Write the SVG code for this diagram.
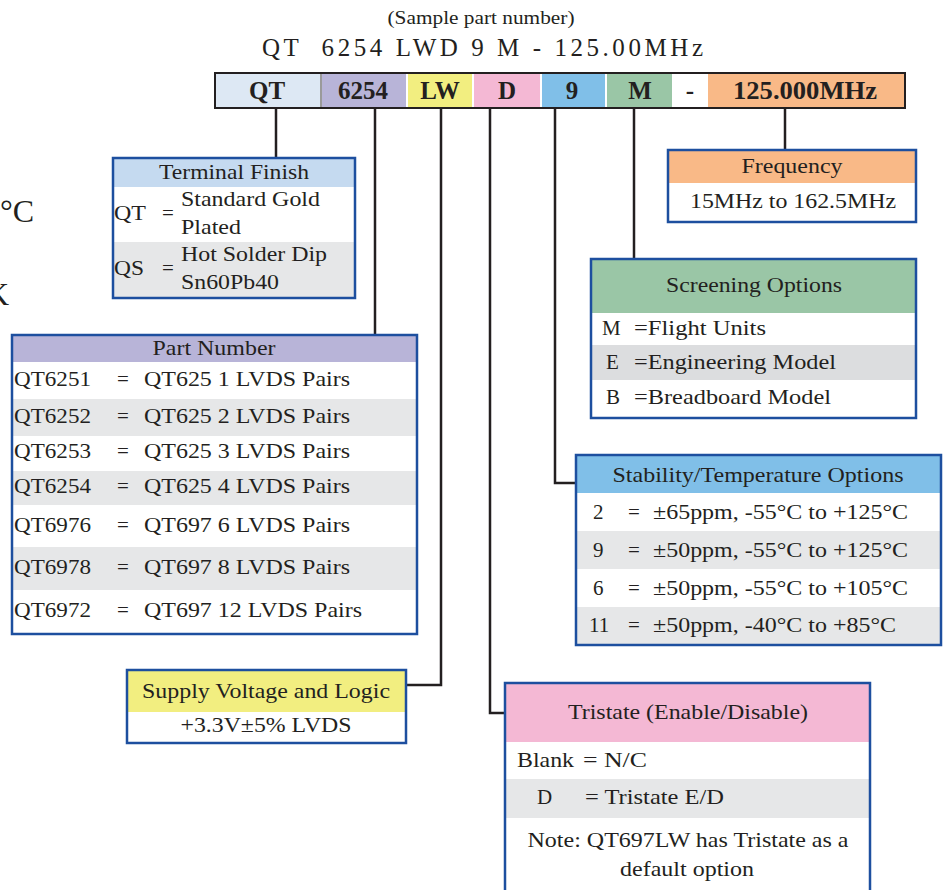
<svg xmlns="http://www.w3.org/2000/svg" width="947" height="890" viewBox="0 0 947 890">
<style>
text{font-family:"Liberation Serif","Times New Roman",serif;fill:#231f20;font-size:21px}
.c{text-anchor:middle}
.b{font-weight:bold;font-size:25px;text-anchor:middle}
.box{fill:none;stroke:#1d4f9f;stroke-width:2.5}
.g{fill:#e6e7e8}
.w{fill:#ffffff}
.con{fill:none;stroke:#231f20;stroke-width:2.5}
</style>
<rect width="947" height="890" fill="#ffffff"/>
<text x="0" y="222" style="font-size:32px">°C</text>
<text x="-14" y="305" style="font-size:32px">K</text>
<g id="title">
<text class="c" x="481" y="24" style="font-size:18px" textLength="187" lengthAdjust="spacingAndGlyphs">(Sample part number)</text>
<text x="262" y="56" style="font-size:25px" textLength="441" lengthAdjust="spacing" xml:space="preserve">QT  6254 LWD 9 M - 125.00MHz</text>
</g>
<g id="bar">
<rect x="215" y="73" width="105" height="35" fill="#dde8f4"/>
<rect x="320" y="73" width="2" height="35" fill="#9a9a9a"/>
<rect x="322" y="73" width="84" height="35" fill="#b8b4d8"/>
<rect x="408" y="73" width="64" height="35" fill="#f2ee80"/>
<rect x="474" y="73" width="66" height="35" fill="#f4b8d4"/>
<rect x="542" y="73" width="63" height="35" fill="#80bfe8"/>
<rect x="607" y="73" width="65" height="35" fill="#9ac6a6"/>
<rect x="672" y="73" width="36" height="35" fill="#ffffff"/>
<rect x="708" y="73" width="197" height="35" fill="#f9b987"/>
<rect x="215" y="73" width="690" height="35" fill="none" stroke="#231f20" stroke-width="2"/>
<text class="b" x="267" y="99">QT</text>
<text class="b" x="363" y="99">6254</text>
<text class="b" x="440" y="99">LW</text>
<text class="b" x="507" y="99">D</text>
<text class="b" x="572" y="99">9</text>
<text class="b" x="640" y="99">M</text>
<text class="b" x="690" y="99">-</text>
<text class="b" x="805" y="99" textLength="144" lengthAdjust="spacingAndGlyphs">125.000MHz</text>
</g>
<g id="connectors">
<path class="con" d="M276 108V158"/>
<path class="con" d="M375 108V335"/>
<path class="con" d="M441 108V685H406"/>
<path class="con" d="M490 108V713H505"/>
<path class="con" d="M555 108V483H577"/>
<path class="con" d="M634 108V260"/>
<path class="con" d="M785 108V150"/>
</g>
<g id="terminal-finish">
<rect x="113" y="158" width="242" height="29" fill="#c5daf0"/>
<rect class="w" x="113" y="187" width="242" height="55"/>
<rect class="g" x="113" y="242" width="242" height="56"/>
<rect class="box" x="113" y="158" width="242" height="140"/>
<text class="c" x="234" y="179" textLength="150" lengthAdjust="spacingAndGlyphs">Terminal Finish</text>
<text x="114" y="220" textLength="32" lengthAdjust="spacingAndGlyphs">QT</text>
<text x="162" y="220">=</text>
<text x="181" y="206" textLength="139" lengthAdjust="spacingAndGlyphs">Standard Gold</text>
<text x="181" y="234" textLength="60" lengthAdjust="spacingAndGlyphs">Plated</text>
<text x="114" y="275" textLength="30" lengthAdjust="spacingAndGlyphs">QS</text>
<text x="162" y="275">=</text>
<text x="181" y="261" textLength="146" lengthAdjust="spacingAndGlyphs">Hot Solder Dip</text>
<text x="181" y="289" textLength="98" lengthAdjust="spacingAndGlyphs">Sn60Pb40</text>
</g>
<g id="part-number">
<rect x="12" y="335" width="405" height="27" fill="#b8b4d8"/>
<rect class="w" x="12" y="362" width="405" height="37"/>
<rect class="g" x="12" y="399" width="405" height="37"/>
<rect class="w" x="12" y="436" width="405" height="35"/>
<rect class="g" x="12" y="471" width="405" height="34"/>
<rect class="w" x="12" y="505" width="405" height="42"/>
<rect class="g" x="12" y="547" width="405" height="43"/>
<rect class="w" x="12" y="590" width="405" height="44"/>
<rect class="box" x="12" y="335" width="405" height="299"/>
<text class="c" x="214" y="355" textLength="123" lengthAdjust="spacingAndGlyphs">Part Number</text>
<text x="14" y="386" textLength="77" lengthAdjust="spacingAndGlyphs">QT6251</text>
<text x="117" y="386">=</text>
<text x="144" y="386" textLength="206" lengthAdjust="spacingAndGlyphs">QT625 1 LVDS Pairs</text>
<text x="14" y="423" textLength="77" lengthAdjust="spacingAndGlyphs">QT6252</text>
<text x="117" y="423">=</text>
<text x="144" y="423" textLength="206" lengthAdjust="spacingAndGlyphs">QT625 2 LVDS Pairs</text>
<text x="14" y="458" textLength="77" lengthAdjust="spacingAndGlyphs">QT6253</text>
<text x="117" y="458">=</text>
<text x="144" y="458" textLength="206" lengthAdjust="spacingAndGlyphs">QT625 3 LVDS Pairs</text>
<text x="14" y="493" textLength="77" lengthAdjust="spacingAndGlyphs">QT6254</text>
<text x="117" y="493">=</text>
<text x="144" y="493" textLength="206" lengthAdjust="spacingAndGlyphs">QT625 4 LVDS Pairs</text>
<text x="14" y="532" textLength="77" lengthAdjust="spacingAndGlyphs">QT6976</text>
<text x="117" y="532">=</text>
<text x="144" y="532" textLength="206" lengthAdjust="spacingAndGlyphs">QT697 6 LVDS Pairs</text>
<text x="14" y="574" textLength="77" lengthAdjust="spacingAndGlyphs">QT6978</text>
<text x="117" y="574">=</text>
<text x="144" y="574" textLength="206" lengthAdjust="spacingAndGlyphs">QT697 8 LVDS Pairs</text>
<text x="14" y="617" textLength="77" lengthAdjust="spacingAndGlyphs">QT6972</text>
<text x="117" y="617">=</text>
<text x="144" y="617" textLength="218" lengthAdjust="spacingAndGlyphs">QT697 12 LVDS Pairs</text>
</g>
<g id="supply-voltage">
<rect x="127" y="670" width="279" height="42" fill="#f2ee80"/>
<rect class="w" x="127" y="712" width="279" height="31"/>
<rect class="box" x="127" y="670" width="279" height="73"/>
<text class="c" x="266" y="698" textLength="248" lengthAdjust="spacingAndGlyphs">Supply Voltage and Logic</text>
<text class="c" x="266" y="732" textLength="171" lengthAdjust="spacingAndGlyphs">+3.3V±5% LVDS</text>
</g>
<g id="tristate">
<rect x="505" y="683" width="365" height="59" fill="#f4b8d4"/>
<rect class="w" x="505" y="742" width="365" height="37"/>
<rect class="g" x="505" y="779" width="365" height="39"/>
<rect class="w" x="505" y="818" width="365" height="74"/>
<rect class="box" x="505" y="683" width="365" height="210"/>
<text class="c" x="688" y="719" textLength="240" lengthAdjust="spacingAndGlyphs">Tristate (Enable/Disable)</text>
<text x="517" y="767" textLength="57" lengthAdjust="spacingAndGlyphs">Blank</text>
<text x="583" y="767" textLength="64" lengthAdjust="spacingAndGlyphs">= N/C</text>
<text x="537" y="804">D</text>
<text x="585" y="804" textLength="139" lengthAdjust="spacingAndGlyphs">= Tristate E/D</text>
<text class="c" x="688" y="847" textLength="321" lengthAdjust="spacingAndGlyphs">Note: QT697LW has Tristate as a</text>
<text class="c" x="687" y="876" textLength="134" lengthAdjust="spacingAndGlyphs">default option</text>
</g>
<g id="frequency">
<rect x="668" y="150" width="248" height="33" fill="#f9b987"/>
<rect class="w" x="668" y="183" width="248" height="39"/>
<rect class="box" x="668" y="150" width="248" height="72"/>
<text class="c" x="792" y="173" textLength="101" lengthAdjust="spacingAndGlyphs">Frequency</text>
<text class="c" x="793" y="208" textLength="206" lengthAdjust="spacingAndGlyphs">15MHz to 162.5MHz</text>
</g>
<g id="screening">
<rect x="591" y="259" width="325" height="54" fill="#9ac6a6"/>
<rect class="w" x="591" y="313" width="325" height="32"/>
<rect x="591" y="345" width="325" height="35" fill="#dcdddf"/>
<rect class="w" x="591" y="380" width="325" height="38"/>
<rect class="box" x="591" y="259" width="325" height="159"/>
<text class="c" x="754" y="292" textLength="176" lengthAdjust="spacingAndGlyphs">Screening Options</text>
<text x="602" y="335">M</text>
<text x="634" y="335" textLength="132" lengthAdjust="spacingAndGlyphs">=Flight Units</text>
<text x="606" y="369">E</text>
<text x="634" y="369" textLength="202" lengthAdjust="spacingAndGlyphs">=Engineering Model</text>
<text x="606" y="404">B</text>
<text x="634" y="404" textLength="197" lengthAdjust="spacingAndGlyphs">=Breadboard Model</text>
</g>
<g id="stability">
<rect x="576" y="455" width="365" height="38" fill="#80bfe8"/>
<rect class="w" x="576" y="493" width="365" height="38"/>
<rect class="g" x="576" y="531" width="365" height="38"/>
<rect class="w" x="576" y="569" width="365" height="38"/>
<rect class="g" x="576" y="607" width="365" height="38"/>
<rect class="box" x="576" y="455" width="365" height="190"/>
<text class="c" x="758" y="482" textLength="291" lengthAdjust="spacingAndGlyphs">Stability/Temperature Options</text>
<text x="593" y="519">2</text>
<text x="628" y="519">=</text>
<text x="653" y="519" textLength="255" lengthAdjust="spacingAndGlyphs">±65ppm, -55°C to +125°C</text>
<text x="593" y="557">9</text>
<text x="628" y="557">=</text>
<text x="653" y="557" textLength="255" lengthAdjust="spacingAndGlyphs">±50ppm, -55°C to +125°C</text>
<text x="593" y="595">6</text>
<text x="628" y="595">=</text>
<text x="653" y="595" textLength="255" lengthAdjust="spacingAndGlyphs">±50ppm, -55°C to +105°C</text>
<text x="589" y="632">11</text>
<text x="628" y="632">=</text>
<text x="653" y="632" textLength="243" lengthAdjust="spacingAndGlyphs">±50ppm, -40°C to +85°C</text>
</g>
</svg>
